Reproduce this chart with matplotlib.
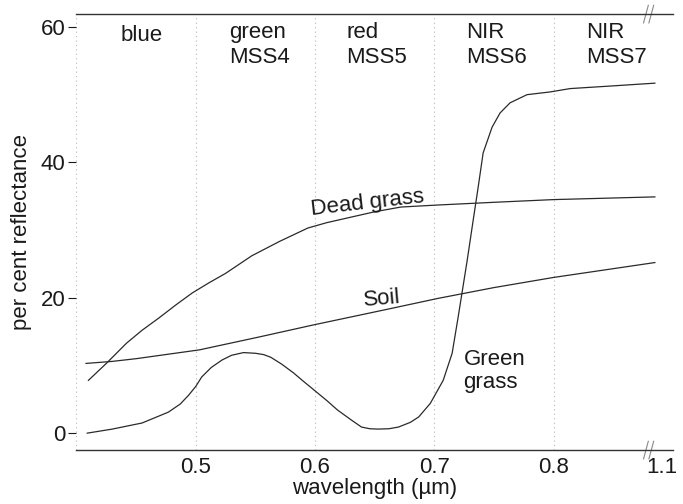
import matplotlib
matplotlib.use("Agg")
import matplotlib.pyplot as plt

plt.rcParams['font.family'] = ['Liberation Sans', 'DejaVu Sans']

# ---- data ----
green_x = [0.409, 0.43, 0.455, 0.477, 0.487, 0.494, 0.50, 0.505, 0.513, 0.522,
           0.53, 0.54, 0.55, 0.557, 0.563, 0.572, 0.582, 0.59, 0.599, 0.61,
           0.619, 0.63, 0.639, 0.646, 0.653, 0.662, 0.67, 0.68, 0.687, 0.6967,
           0.7075, 0.715, 0.720, 0.7276, 0.7326, 0.7368, 0.741, 0.7485, 0.7552, 0.7636,
           0.7778, 0.797, 0.814, 0.85, 0.885]
green_y = [0.0, 0.6, 1.5, 3.1, 4.3, 5.6, 6.9, 8.3, 9.7, 10.8,
           11.5, 11.9, 11.8, 11.6, 11.2, 10.2, 8.9, 7.7, 6.4, 4.8,
           3.4, 2.0, 0.9, 0.65, 0.6, 0.65, 0.9, 1.6, 2.4, 4.4,
           7.8, 11.8, 17.1, 25.5, 31.4, 36.3, 41.4, 45.2, 47.3, 48.8,
           50.0, 50.4, 50.9, 51.3, 51.7]

dead_x = [0.41, 0.425, 0.442, 0.455, 0.469, 0.483, 0.497, 0.511, 0.525, 0.547,
          0.57, 0.594, 0.61, 0.63, 0.65, 0.672, 0.703, 0.75, 0.80, 0.885]
dead_y = [7.8, 10.3, 13.3, 15.2, 17.0, 18.9, 20.7, 22.2, 23.6, 26.2,
          28.3, 30.3, 31.1, 31.9, 32.7, 33.4, 33.7, 34.1, 34.5, 34.9]

soil_x = [0.408, 0.43, 0.45, 0.503, 0.553, 0.599, 0.658, 0.703, 0.75, 0.80, 0.885]
soil_y = [10.3, 10.6, 11.0, 12.3, 14.2, 16.0, 18.2, 19.9, 21.5, 23.0, 25.2]

band_x = [0.437, 0.528, 0.626, 0.727, 0.827]
band_top = ['blue', 'green', 'red', 'NIR', 'NIR']
band_bottom = ['', 'MSS4', 'MSS5', 'MSS6', 'MSS7']
band_lines = [0.4, 0.5, 0.6, 0.7, 0.8]

xtick_pos = [0.5, 0.6, 0.7, 0.8, 0.891]
xtick_labels = ['0.5', '0.6', '0.7', '0.8', '1.1']
ytick_pos = [0, 20, 40, 60]
ytick_labels = ['0', '20', '40', '60']

# ---- figure ----
fig = plt.figure(figsize=(6.83, 5.04), dpi=100)
ax = fig.add_axes([0.112, 0.107, 0.873, 0.865])
ax.set_xlim(0.40, 0.90)
ax.set_ylim(-2.5, 61.9)

txt_col = '#1a1a1a'
line_col = '#2a2a2a'
FS = 16

for bx in band_lines:
    ax.axvline(bx, color='#b8b8b8', lw=0.8, ls=(0, (1, 3)), zorder=1)

ax.plot(green_x, green_y, color=line_col, lw=0.9, zorder=3)
ax.plot(dead_x, dead_y, color=line_col, lw=0.9, zorder=3)
ax.plot(soil_x, soil_y, color=line_col, lw=0.9, zorder=3)

for i, (bx, t1, t2) in enumerate(zip(band_x, band_top, band_bottom)):
    y1 = 57.9 if i == 0 else 58.35
    ax.text(bx, y1, t1, ha='left', va='baseline', fontsize=FS, color=txt_col)
    if t2:
        ax.text(bx, 54.7, t2, ha='left', va='baseline', fontsize=FS, color=txt_col)

ax.text(0.644, 34.0, 'Dead grass', ha='center', va='center', fontsize=FS,
        rotation=6.5, color=txt_col)
ax.text(0.656, 19.8, 'Soil', ha='center', va='center', fontsize=FS,
        rotation=5, color=txt_col)
ax.text(0.7245, 9.2, 'Green\ngrass', ha='left', va='center', fontsize=FS,
        linespacing=1.1, color=txt_col)

# spines
for s in ['left', 'right']:
    ax.spines[s].set_visible(False)
for s in ['top', 'bottom']:
    ax.spines[s].set_color('#333333')
    ax.spines[s].set_linewidth(1.0)

ax.set_xticks(xtick_pos)
ax.set_xticklabels(xtick_labels)
ax.set_yticks(ytick_pos)
ax.set_yticklabels(ytick_labels)
ax.tick_params(axis='x', length=0, pad=5, labelsize=FS, colors=txt_col)
ax.tick_params(axis='y', length=6, width=0.8, pad=2, labelsize=FS,
               colors=txt_col, direction='out')

ax.set_xlabel('wavelength (\u00b5m)', fontsize=FS, labelpad=0, color=txt_col)
ax.set_ylabel('per cent reflectance', fontsize=FS, labelpad=6, color=txt_col)

# axis break marks
for yv in [-2.5, 61.9]:
    for dx in [-0.0045, 0.0]:
        ax.plot([0.882 + dx - 0.002, 0.882 + dx + 0.002], [yv - 1.3, yv + 1.3],
                color='#888888', lw=0.8, clip_on=False)

fig.savefig('out.png', dpi=100, facecolor='white')
